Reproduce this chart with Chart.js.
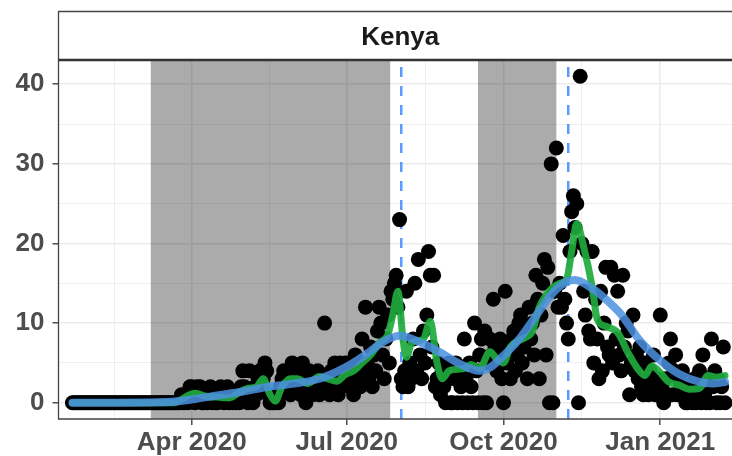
<!DOCTYPE html>
<html>
<head>
<meta charset="utf-8">
<script src="https://cdn.jsdelivr.net/npm/chart.js@4.4.1/dist/chart.umd.min.js"></script>
<style>
  html, body { margin: 0; padding: 0; background: #fff; overflow: hidden; }
  #wrap { width: 732px; height: 456px; overflow: hidden; }
</style>
</head>
<body>
<div id="wrap"><canvas id="chart" width="742" height="456"></canvas></div>
<script>
// day 0 = 22 Jan 2020
const deaths = [
  // Jan 22-31
  0,0,0,0,0,0,0,0,0,0,
  // Feb
  0,0,0,0,0,0,0,0,0,0,0,0,0,0,0,0,0,0,0,0,0,0,0,0,0,0,0,0,0,
  // Mar
  0,0,0,0,0,0,0,0,0,0,0,0,0,0,0,0,0,0,0,0,0,0,0,0,0,1,0,0,1,0,2,
  // Apr
  2,1,0,2,1,2,0,0,1,0,1,2,0,1,0,0,1,2,1,0,1,2,0,1,0,1,0,1,0,2,
  // May
  4,2,1,0,4,1,0,2,1,3,4,2,3,5,4,1,0,0,0,0,1,0,2,3,4,2,3,4,1,5,3,
  // Jun
  2,4,3,1,5,2,0,3,4,2,1,3,2,4,1,3,2,10,3,2,1,4,2,5,3,1,5,2,4,5,
  // Jul
  3,5,2,4,1,6,3,5,2,8,4,12,5,3,7,2,6,4,9,12,10,6,3,8,11,5,14,13,15,16,12,
  // Aug
  23,3,2,4,14,2,5,3,8,15,4,18,6,3,9,5,11,19,16,7,16,2,3,5,1,4,2,0,3,5,0,
  // Sep
  0,3,5,0,4,2,0,8,3,0,5,2,0,10,4,0,6,8,0,9,0,5,8,6,13,7,4,6,8,3,
  // Oct
  0,14,5,7,3,8,9,4,6,10,11,5,7,9,3,12,8,10,6,16,13,3,11,15,18,6,17,0,30,0,14,
  // Nov
  32,12,15,12,21,13,10,8,19,24,26,22,25,0,41,20,14,11,19,9,8,19,5,13,8,3,14,4,10,17,
  // Dec
  7,6,17,5,16,8,14,6,4,16,7,10,9,1,5,11,4,6,3,7,2,1,5,3,1,4,2,6,1,3,2,
  // Jan 2021
  11,2,0,3,1,5,8,1,4,6,1,3,2,4,1,0,0,2,1,0,3,0,2,4,0,6,1,0,3,0,8,
  // Feb 2021
  2,4,0,3,0,2,7,0
];

// 7-day average (green)
const avgDays = [0,60,64,68,72,78,85,92,98,103,108,112,116,119,123,128,132,138,145,150,155,160,165,170,175,180,185,188,191,194,196,199,203,206,210,214,217,221,226,230,234,239,245,249,253,257,262,266,270,274,278,282,286,290,293,296,300,305,308,313,320,326,332,336,340,344,350,356,362,368,373,378,383];
const avgVals = [0,0,0.4,0.9,1.2,0.8,0.7,0.6,1.3,1.8,2.0,3.0,1.0,0.2,2.0,3.0,3.0,2.4,3.3,3.0,2.7,3.5,4.0,5.0,6.0,7.5,8.5,11,14,8,5.7,7.5,7.8,8,10.2,5,3,4,4.2,4.3,4.8,4.3,6.4,5.5,5,7,7.8,8.2,9,12,13.5,14.5,15,15.5,19,22.5,19.6,14.6,10.5,9.6,8.8,6.3,4.2,3.4,4.6,4.0,2.6,2.2,1.7,1.8,3.4,3.2,3.4];

// smooth trend (blue)
const trendDays = [0,30,50,60,70,85,100,115,130,145,160,172,182,192,204,216,227,239,245,251,263,274,282,290,295,304,313,322,333,345,356,368,376,383];
const trendVals = [0,0,0.05,0.15,0.4,0.9,1.4,2.0,2.4,3.0,4.4,6.0,7.6,8.4,7.6,6.3,4.9,4.0,4.4,5.5,8.2,11.5,13.8,15.2,15.4,14.5,13.0,11.1,7.8,5.3,3.6,2.6,2.4,2.6];

const shadeStart = [46, 238];
const shadeEnd = [186.5, 284];
const markerDays = [193, 291];

const X_MIN = -8.16, X_MAX = 392.96;
const xTickDays = [24.5, 70, 115.5, 161, 207, 253, 299, 345];
const xTickLabels = ['', 'Apr 2020', '', 'Jul 2020', '', 'Oct 2020', '', 'Jan 2021'];
const yTickVals = [0, 5, 10, 15, 20, 25, 30, 35, 40];
const panelTitle = 'Kenya';

const FONT = '"Liberation Sans", Arial, sans-serif';

const panelPlugin = {
  id: 'panel',
  beforeDatasetsDraw(chart) {
    const { ctx, chartArea: a, scales: { x } } = chart;
    ctx.save();
    ctx.beginPath();
    ctx.rect(a.left, a.top, a.right - a.left, a.bottom - a.top);
    ctx.clip();
    ctx.fillStyle = 'rgba(0,0,0,0.33)';
    shadeStart.forEach((s, i) => {
      const x0 = x.getPixelForValue(s), x1 = x.getPixelForValue(shadeEnd[i]);
      ctx.fillRect(x0, a.top, x1 - x0, a.bottom - a.top);
    });
    ctx.strokeStyle = '#5a9bff';
    ctx.lineWidth = 2.5;
    ctx.setLineDash([10, 9]);
    ctx.lineDashOffset = 12;
    markerDays.forEach(d => {
      const px = x.getPixelForValue(d);
      ctx.beginPath();
      ctx.moveTo(px, a.top);
      ctx.lineTo(px, a.bottom);
      ctx.stroke();
    });
    ctx.restore();
  },
  afterDraw(chart) {
    const { ctx, chartArea: a } = chart;
    ctx.save();
    // strip
    ctx.fillStyle = '#fff';
    ctx.fillRect(a.left, 12, a.right - a.left, a.top - 12);
    ctx.strokeStyle = '#444';
    ctx.lineWidth = 1.3;
    ctx.beginPath();
    ctx.moveTo(a.right, 11.5);
    ctx.lineTo(a.left, 11.5);
    ctx.lineTo(a.left, a.bottom);
    ctx.lineTo(a.right, a.bottom);
    ctx.stroke();
    ctx.strokeStyle = '#333';
    ctx.lineWidth = 2.4;
    ctx.beginPath();
    ctx.moveTo(a.left, a.top);
    ctx.lineTo(a.right, a.top);
    ctx.stroke();
    ctx.fillStyle = '#1a1a1a';
    ctx.font = 'bold 26px ' + FONT;
    ctx.textAlign = 'center';
    ctx.textBaseline = 'alphabetic';
    ctx.fillText(panelTitle, (a.left + a.right) / 2, 45);
    ctx.restore();
  }
};

new Chart(document.getElementById('chart'), {
  type: 'scatter',
  data: {
    datasets: [
      {
        type: 'line',
        data: trendDays.map((d, i) => ({ x: d, y: trendVals[i] })),
        borderColor: 'rgba(75,145,225,0.85)',
        borderWidth: 8,
        pointRadius: 0,
        cubicInterpolationMode: 'monotone',
        borderCapStyle: 'round',
        fill: false,
        order: 0
      },
      {
        type: 'line',
        data: avgDays.map((d, i) => ({ x: d, y: avgVals[i] })),
        borderColor: 'rgba(30,170,60,0.92)',
        borderWidth: 7,
        pointRadius: 0,
        cubicInterpolationMode: 'monotone',
        borderCapStyle: 'round',
        borderJoinStyle: 'round',
        fill: false,
        order: 1
      },
      {
        data: deaths.map((v, i) => ({ x: i, y: v })),
        backgroundColor: '#000',
        borderWidth: 0,
        pointRadius: 7.5,
        order: 2
      }
    ]
  },
  options: {
    responsive: false,
    animation: false,
    devicePixelRatio: 1,
    layout: { autoPadding: false, padding: { left: 0, top: 60, right: 0, bottom: 0 } },
    plugins: { legend: { display: false }, tooltip: { enabled: false } },
    scales: {
      x: {
        type: 'linear',
        min: X_MIN,
        max: X_MAX,
        afterBuildTicks: s => { s.ticks = xTickDays.map(v => ({ value: v })); },
        afterFit: s => { s.height = 37; s.paddingLeft = 0; s.paddingRight = 0; },
        border: { display: false },
        grid: {
          color: '#ebebeb',
          lineWidth: c => (xTickLabels[c.index] ? 1.6 : 0.8),
          tickColor: c => (xTickLabels[c.index] ? '#333' : 'rgba(0,0,0,0)'),
          tickLength: 6,
          tickWidth: 1.3
        },
        ticks: {
          autoSkip: false,
          maxRotation: 0,
          padding: 2,
          color: '#4d4d4d',
          font: { family: FONT, size: 26, weight: 'bold' },
          callback: (v, i) => xTickLabels[i]
        }
      },
      y: {
        min: -2.05,
        max: 43.05,
        afterBuildTicks: s => { s.ticks = yTickVals.map(v => ({ value: v })); },
        afterFit: s => { s.width = 58.5; },
        border: { display: false },
        grid: {
          color: '#ebebeb',
          lineWidth: c => (yTickVals[c.index] % 10 === 0 ? 1.6 : 0.8),
          tickColor: c => (yTickVals[c.index] % 10 === 0 ? '#333' : 'rgba(0,0,0,0)'),
          tickLength: 6,
          tickWidth: 1.3
        },
        ticks: {
          padding: 8,
          color: '#4d4d4d',
          font: { family: FONT, size: 26, weight: 'bold' },
          callback: (v, i) => (yTickVals[i] % 10 === 0 ? String(yTickVals[i]) : '')
        }
      }
    }
  },
  plugins: [panelPlugin]
});
</script>
</body>
</html>
